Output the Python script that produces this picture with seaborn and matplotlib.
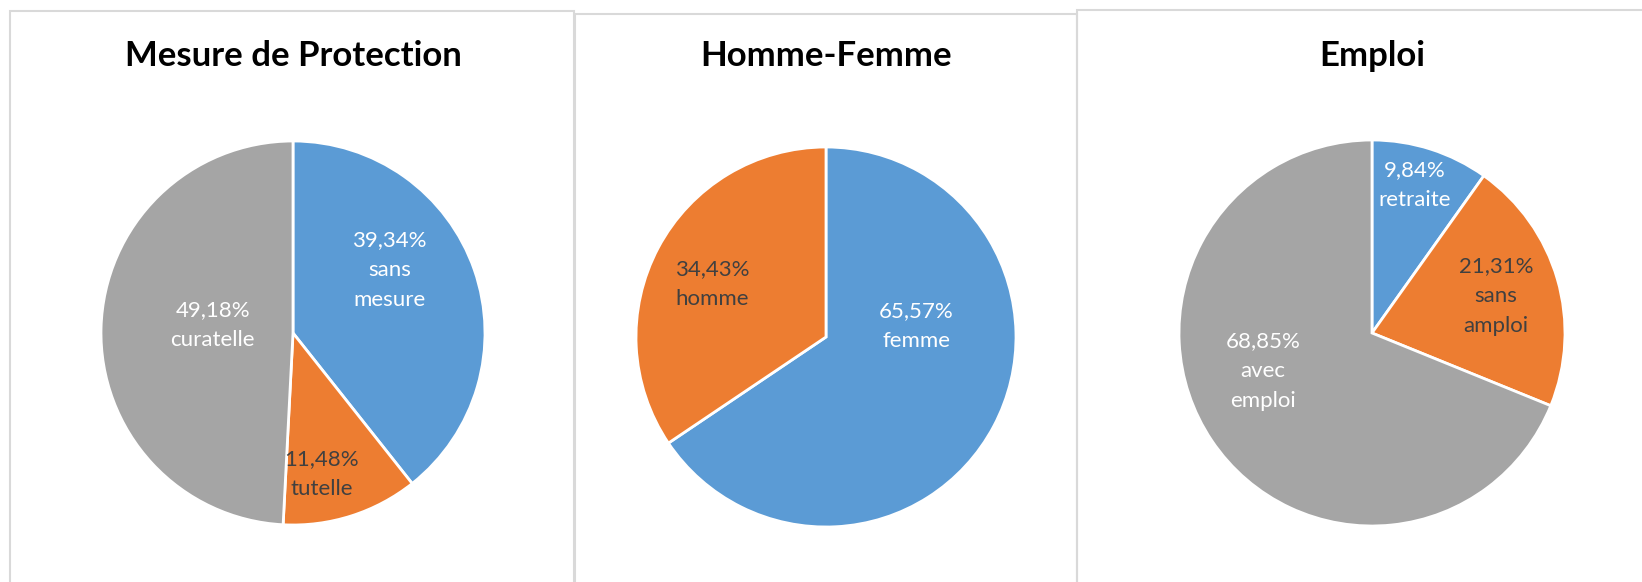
import matplotlib
matplotlib.use("Agg")
import matplotlib.pyplot as plt
import seaborn as sns
import numpy as np
from matplotlib.patches import Rectangle

# donnees des trois camemberts
titles = ['Mesure de Protection', 'Homme-Femme', 'Emploi']

mesure_labels = ['sans\nmesure', 'tutelle', 'curatelle']
mesure_values = [39.34, 11.48, 49.18]

sexe_labels = ['femme', 'homme']
sexe_values = [65.57, 34.43]

emploi_labels = ['retraite', 'sans\namploi', 'avec\nemploi']
emploi_values = [9.84, 21.31, 68.85]

sns.set_theme(style='white')
plt.rcParams['font.family'] = ['Lato', 'DejaVu Sans']

blue, orange, grey = '#5B9BD5', '#ED7D31', '#A5A5A5'
pal = sns.color_palette([blue, orange, grey])
W, H = 1642, 582
fig = plt.figure(figsize=(W / 100, H / 100), dpi=100)

# cadres des graphiques (px: gauche, droite, haut)
frames = [(10, 574, 11), (575, 1077, 14), (1077, 1700, 10)]
for x0, x1, top in frames:
    fig.patches.append(Rectangle((x0 / W, -0.1), (x1 - x0) / W, (H - top) / H + 0.1,
                                 transform=fig.transFigure, fill=False,
                                 edgecolor='#D9D9D9', linewidth=1.5))

# centre et rayon de chaque camembert (px)
pies = [
    (293, 333, 192, mesure_labels, mesure_values, [pal[0], pal[1], pal[2]],
     [(0.6, 33), (0.75, -78.6), (0.42, 174)]),
    (826, 337, 190, sexe_labels, sexe_values, [pal[0], pal[1]],
     [(0.48, 6.6), (0.66, 155)]),
    (1372, 333, 193, emploi_labels, emploi_values, [pal[0], pal[1], pal[2]],
     [(0.8, 74), (0.67, 16.5), (0.6, 199.4)]),
]
title_x = [293, 826, 1372]

for i, (cx, cy, r, labs, vals, cols, lpos) in enumerate(pies):
    ax = fig.add_axes([(cx - r) / W, (H - cy - r) / H, 2 * r / W, 2 * r / H])
    ax.pie(vals, colors=cols, startangle=90, counterclock=False, radius=1,
           wedgeprops=dict(edgecolor='white', linewidth=2))
    ax.set_xlim(-1, 1)
    ax.set_ylim(-1, 1)
    ax.set_aspect('equal')
    ax.axis('off')
    for lab, v, c, (rr, ang) in zip(labs, vals, cols, lpos):
        txt = ('%.2f%%' % v).replace('.', ',') + '\n' + lab
        tc = '#404040' if c == pal[1] else 'white'
        a = np.deg2rad(ang)
        ax.text(rr * np.cos(a), rr * np.sin(a), txt, ha='center', va='center',
                fontsize=16, color=tc, linespacing=1.62)
    fig.text(title_x[i] / W, 1 - 56 / H, titles[i], ha='center', va='center',
             fontsize=25, fontweight='bold', color='black')

fig.savefig('out.png', dpi=100, facecolor='white')
